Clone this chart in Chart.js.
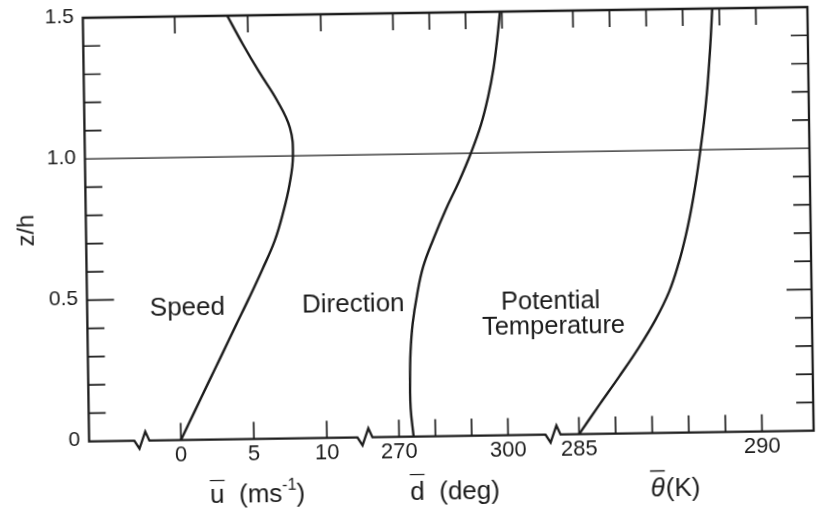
<!DOCTYPE html>
<html><head><meta charset="utf-8">
<script src="https://cdn.jsdelivr.net/npm/chart.js@4/dist/chart.umd.min.js"></script>
<style>
html,body{margin:0;padding:0;background:#fff;overflow:hidden;width:822px;height:511px}
#wrap{width:822px;height:511px;transform:rotate(-0.85deg);transform-origin:411px 255.5px}
canvas{display:block}
</style></head>
<body><div id="wrap"><canvas id="c" width="822" height="511"></canvas></div>
<script>
// ---- data ----
const heights   = [0, 0.1, 0.2, 0.3, 0.4, 0.5, 0.6, 0.7, 0.8, 0.9, 1.0, 1.1, 1.2, 1.3, 1.4, 1.5];
const speed     = [0, 0.96, 1.92, 2.89, 3.85, 4.82, 5.75, 6.62, 7.23, 7.7, 7.96, 7.78, 6.9, 5.72, 4.62, 3.6];
const direction = [274.0, 273.3, 273.25, 273.5, 274.2, 275.5, 277.3, 280.3, 283.7, 287.5, 290.9, 293.8, 295.9, 297.5, 298.6, 299.5];
const theta     = [285.0, 285.55, 286.11, 286.65, 287.13, 287.52, 287.79, 288.0, 288.17, 288.31, 288.43, 288.54, 288.63, 288.7, 288.76, 288.81];

const zTicks       = [0, 0.5, 1.0, 1.5];
const zTickLabels  = ['0', '0.5', '1.0', '1.5'];
const zMinorTicks  = [0.1, 0.2, 0.3, 0.4, 0.5, 0.6, 0.7, 0.8, 0.9, 1.1, 1.2, 1.3, 1.4];
const speedTicks      = [0, 5, 10];
const speedTickLabels = ['0', '5', '10'];
const dirTicks        = [270, 280, 290, 300];
const dirTickLabels   = ['270', '', '', '300'];
const thetaTicks      = [285, 286, 287, 288, 289, 290];
const thetaTickLabels = ['285', '', '', '', '', '290'];
const curveNames = ['Speed', 'Direction', 'Potential', 'Temperature'];
const yTitle = 'z/h';
// ---------------------------------------

const INK = '#1c1c1c';
const FONT = '"Liberation Sans", Arial, Helvetica, sans-serif';

function pts(xs){ return heights.map((z,i)=>({x:xs[i], y:z})); }

const axisDecor = {
  id: 'axisDecor',
  afterDatasetsDraw(chart){
    const {ctx, chartArea:a, scales} = chart;
    const ys = scales.y, xs = scales.xs, xd = scales.xd, xt = scales.xt;
    ctx.save();
    ctx.strokeStyle = INK; ctx.fillStyle = INK;
    // frame with axis breaks
    ctx.lineWidth = 2.3; ctx.lineJoin = 'miter';
    ctx.beginPath();
    ctx.moveTo(a.left, a.bottom);
    ctx.lineTo(a.left, a.top); ctx.lineTo(a.right, a.top); ctx.lineTo(a.right, a.bottom);
    const breaks = [xt.getPixelForValue(284.29), xs.getPixelForValue(12.61), xs.getPixelForValue(-2.67)];
    for (const b of breaks){
      ctx.lineTo(b+7.4, a.bottom); ctx.lineTo(b+3.4, a.bottom-9);
      ctx.lineTo(b-2.6, a.bottom+8); ctx.lineTo(b-7.6, a.bottom);
    }
    ctx.closePath();
    ctx.stroke();
    // reference line z/h = 1
    ctx.lineWidth = 1.3;
    ctx.beginPath();
    const y1 = ys.getPixelForValue(1.0);
    ctx.moveTo(a.left, y1); ctx.lineTo(a.right, y1); ctx.stroke();
    // y ticks (inside, both sides)
    ctx.lineWidth = 1.7;
    ctx.beginPath();
    for (const v of zMinorTicks){
      const y = ys.getPixelForValue(v);
      const major = zTicks.includes(v);
      ctx.moveTo(a.left, y); ctx.lineTo(a.left + (major ? 27 : 17), y);
      ctx.moveTo(a.right, y); ctx.lineTo(a.right - (major ? 25 : 17), y);
    }
    // x ticks (inside, bottom and top)
    const xt_all = [[xs, speedTicks], [xd, dirTicks], [xt, thetaTicks]];
    for (const [sc, ticks] of xt_all){
      for (const v of ticks){
        const x = sc.getPixelForValue(v);
        ctx.moveTo(x, a.bottom); ctx.lineTo(x, a.bottom - 17);
        ctx.moveTo(x, a.top); ctx.lineTo(x, a.top + 17);
      }
    }
    ctx.stroke();

    // tick labels
    ctx.font = '21px ' + FONT;
    ctx.textAlign = 'right'; ctx.textBaseline = 'middle';
    zTicks.forEach((v,i)=>{ ctx.fillText(zTickLabels[i], a.left - 9, ys.getPixelForValue(v) - 1); });
    ctx.font = '22px ' + FONT;
    ctx.textAlign = 'center';
    const lab = [[xs, speedTicks, speedTickLabels], [xd, dirTicks, dirTickLabels], [xt, thetaTicks, thetaTickLabels]];
    for (const [sc, ticks, labels] of lab){
      ticks.forEach((v,i)=>{ if(labels[i]) ctx.fillText(labels[i], sc.getPixelForValue(v), a.bottom + 15); });
    }

    // y title
    ctx.save();
    ctx.font = '24px ' + FONT;
    ctx.translate(a.left - 59, (a.top + a.bottom)/2);
    ctx.rotate(-Math.PI/2);
    ctx.textAlign = 'center'; ctx.textBaseline = 'middle';
    ctx.fillText(yTitle, 0, 0);
    ctx.restore();

    // x titles (with overbars)
    const ty = a.bottom + 63;
    ctx.textBaseline = 'alphabetic'; ctx.textAlign = 'left';
    function barred(base, x, y, font, lift){
      ctx.font = font;
      const w = ctx.measureText(base).width;
      ctx.fillText(base, x, y);
      const mw = ctx.measureText('\u00AF').width;
      ctx.fillText('\u00AF', x + (w - mw)/2, y - lift);
      return w;
    }
    // speed title
    {
      const big = '26px ' + FONT, small = '16px ' + FONT;
      ctx.font = big; const w1 = ctx.measureText('u').width, w2 = ctx.measureText('  (ms').width, w4 = ctx.measureText(')').width;
      ctx.font = small; const w3 = ctx.measureText('-1').width;
      const total = w1 + w2 + w3 + w4;
      let x = xs.getPixelForValue(5.2) - total/2;
      barred('u', x, ty, big, 3);
      x += w1;
      ctx.font = big; ctx.fillText('  (ms', x, ty); x += w2;
      ctx.font = small; ctx.fillText('-1', x, ty - 12); x += w3;
      ctx.font = big; ctx.fillText(')', x, ty);
    }
    // direction title
    {
      const big = '26px ' + FONT;
      ctx.font = big; const w1 = ctx.measureText('d').width, w2 = ctx.measureText('  (deg)').width;
      let x = xd.getPixelForValue(285.2) - (w1 + w2)/2;
      barred('d', x, ty, big, 6);
      ctx.font = big; ctx.fillText('  (deg)', x + w1, ty);
    }
    // theta title
    {
      const it = 'italic 26px ' + FONT, big = '26px ' + FONT;
      ctx.font = it; const w1 = ctx.measureText('\u03B8').width;
      ctx.font = big; const w2 = ctx.measureText('(K)').width;
      let x = xt.getPixelForValue(287.6) - (w1 + w2)/2;
      barred('\u03B8', x, ty, it, 6);
      ctx.font = big; ctx.fillText('(K)', x + w1 + 1, ty);
    }

    // curve names
    ctx.font = '26px ' + FONT; ctx.textAlign = 'left'; ctx.textBaseline = 'alphabetic';
    ctx.fillText(curveNames[0], xs.getPixelForValue(-2.0), ys.getPixelForValue(0.441));
    ctx.fillText(curveNames[1], xd.getPixelForValue(243.8), ys.getPixelForValue(0.443));
    ctx.font = '25.5px ' + FONT;
    ctx.fillText(curveNames[2], xt.getPixelForValue(282.92), ys.getPixelForValue(0.446));
    ctx.fillText(curveNames[3], xt.getPixelForValue(282.39), ys.getPixelForValue(0.356));
    ctx.restore();
  }
};

const lineStyle = {borderColor: INK, borderWidth: 2.4, pointRadius: 0, tension: 0.4, fill: false};

new Chart(document.getElementById('c'), {
  type: 'line',
  data: {
    datasets: [
      Object.assign({label: 'Speed', data: pts(speed), xAxisID: 'xs', yAxisID: 'y'}, lineStyle),
      Object.assign({label: 'Direction', data: pts(direction), xAxisID: 'xd', yAxisID: 'y'}, lineStyle),
      Object.assign({label: 'Potential Temperature', data: pts(theta), xAxisID: 'xt', yAxisID: 'y'}, lineStyle)
    ]
  },
  options: {
    responsive: false,
    animation: false,
    devicePixelRatio: 1,
    layout: {padding: {left: 86.4, top: 13, right: 11, bottom: 74.4}},
    plugins: {legend: {display: false}, tooltip: {enabled: false}},
    scales: {
      xs: {type: 'linear', axis: 'x', position: 'bottom', min: -6.29, max: 43.34, display: false},
      xd: {type: 'linear', axis: 'x', position: 'bottom', min: 184.67, max: 384.12, display: false},
      xt: {type: 'linear', axis: 'x', position: 'bottom', min: 271.61, max: 291.41, display: false},
      y:  {type: 'linear', position: 'left', min: 0, max: 1.5, display: false}
    }
  },
  plugins: [axisDecor]
});
</script>
</body></html>
